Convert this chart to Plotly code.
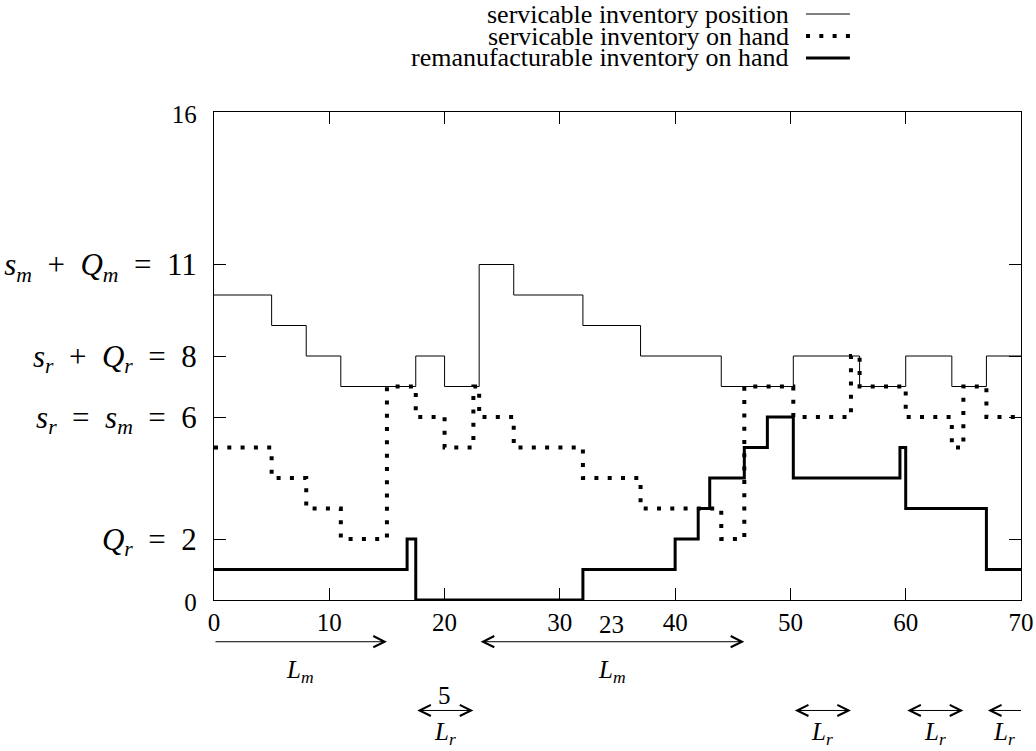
import plotly.graph_objects as go

# ---- data ----
pos_x = [0, 5, 8, 11, 17.5, 20, 23, 26, 32, 37, 44, 50.25, 56, 60, 64, 67, 70]
pos_y = [10, 9, 8, 7, 8, 7, 11, 10, 9, 8, 7, 8, 7, 8, 7, 8, 8]

hand_x = [0, 5, 8, 11, 15, 17.5, 20, 22.5, 23, 26, 32, 37, 44, 46, 50.25, 55.25, 56, 60, 64, 65, 67, 70]
hand_y = [5, 4, 3, 2, 7, 6, 5, 7, 6, 5, 4, 3, 2, 7, 6, 8, 7, 6, 5, 7, 6, 6]

rem_x = [0, 16.75, 17.5, 32, 40, 42, 43, 46, 48, 50.25, 59.5, 60, 67, 70]
rem_y = [1, 2, 0, 1, 2, 3, 4, 5, 6, 4, 5, 3, 1, 1]

x_ticks = [0, 10, 20, 30, 40, 50, 60, 70]
y_ticks = [0, 2, 6, 8, 11, 16]
SP = "\u2002"
y_ticktext = [
    "<span style='font-size:25px'>0</span>",
    f"<i>Q</i><sub><i>r</i></sub>{SP}={SP}2",
    f"<i>s</i><sub><i>r</i></sub>{SP}={SP}<i>s</i><sub><i>m</i></sub>{SP}={SP}6",
    f"<i>s</i><sub><i>r</i></sub>{SP}+{SP}<i>Q</i><sub><i>r</i></sub>{SP}={SP}8",
    f"<i>s</i><sub><i>m</i></sub>{SP}+{SP}<i>Q</i><sub><i>m</i></sub>{SP}={SP}11",
    "<span style='font-size:25px'>16</span>",
]

series_names = [
    "servicable inventory position",
    "servicable inventory on hand",
    "remanufacturable inventory on hand",
]

# lead-time arrows: (start, end, head at start, head at end, label x, value label)
Lm_arrows = [(0, 15, False, True, 7.5, None), (23, 46, True, True, 34.5, "23")]
Lr_arrows = [(17.5, 22.5, True, True, 20, "5"), (50.25, 55.25, True, True, 52.75, None),
             (60, 65, True, True, 62.5, None), (67, 70, True, False, 68.5, None)]

FONT = "Liberation Serif"
FS = 25

fig = go.Figure()
fig.add_trace(go.Scatter(x=pos_x, y=pos_y, mode="lines", line=dict(shape="hv", color="black", width=1),
                         name=series_names[0], cliponaxis=False, showlegend=False))
fig.add_trace(go.Scatter(x=hand_x, y=hand_y, mode="lines",
                         line=dict(shape="hv", color="black", width=4, dash="4px,9.3px"),
                         name=series_names[1], cliponaxis=False, showlegend=False))
fig.add_trace(go.Scatter(x=rem_x, y=rem_y, mode="lines", line=dict(shape="hv", color="black", width=3),
                         name=series_names[2], cliponaxis=False, showlegend=False))

ann = []
shapes = []


def arrow(x0, x1, y, start, end):
    side = []
    if end:
        side.append("end")
    if start:
        side.append("start")
    ann.append(dict(x=x1, y=y, ax=x0, ay=0, xref="x", yref="paper", axref="x", ayref="pixel",
                    text="", showarrow=True, arrowhead=5, startarrowhead=5,
                    arrowside="+".join(side), arrowsize=2.2, startarrowsize=2.2,
                    arrowwidth=1, arrowcolor="black", standoff=0, startstandoff=0))


ROW1 = -0.0855
ROW2 = -0.2264
tfont = dict(family=FONT, size=FS, color="black")
for x0, x1, s, e, lx, val in Lm_arrows:
    arrow(x0, x1, ROW1, s, e)
    ann.append(dict(x=lx, y=-0.1475, xref="x", yref="paper", yanchor="middle", xanchor="center",
                    showarrow=False, text="<i>L</i><sub><i>m</i></sub>", font=tfont))
    if val:
        ann.append(dict(x=lx, y=-0.0512, xref="x", yref="paper", yanchor="middle", xanchor="center",
                        showarrow=False, text=val, font=tfont))
for x0, x1, s, e, lx, val in Lr_arrows:
    arrow(x0, x1, ROW2, s, e)
    ann.append(dict(x=lx, y=-0.274, xref="x", yref="paper", yanchor="middle", xanchor="center",
                    showarrow=False, text="<i>L</i><sub><i>r</i></sub>", font=tfont))
    if val:
        ann.append(dict(x=lx, y=-0.196, xref="x", yref="paper", yanchor="middle", xanchor="center",
                        showarrow=False, text=val, font=tfont))

# custom legend (text on left, sample on right)
leg_rows = [1.2008, 1.1557, 1.1107]
leg_styles = [dict(width=1, dash="solid"), dict(width=4, dash="4px,9.3px"), dict(width=3, dash="solid")]
for name, yy, st in zip(series_names, leg_rows, leg_styles):
    ann.append(dict(x=0.715, y=yy, xref="paper", yref="paper", xanchor="right", yanchor="middle",
                    showarrow=False, text=name, font=dict(family=FONT, size=26, color="black")))
    shapes.append(dict(type="line", xref="paper", yref="paper", x0=0.7336, x1=0.788, y0=yy, y1=yy,
                       line=dict(color="black", width=st["width"], dash=st["dash"])))

fig.update_layout(
    width=1036, height=751,
    margin=dict(l=214, r=15, t=112, b=151, autoexpand=False),
    paper_bgcolor="white", plot_bgcolor="white",
    font=dict(family=FONT, size=FS, color="black"),
    annotations=ann, shapes=shapes,
    showlegend=False,
)
fig.update_xaxes(range=[0, 70], tickvals=x_ticks, ticktext=[str(v) for v in x_ticks],
                 tickfont=dict(family=FONT, size=25, color="black"), automargin=False,
                 showgrid=False, zeroline=False, showline=True, linecolor="black", linewidth=1,
                 mirror="ticks", ticks="inside", ticklen=12, tickcolor="black", tickwidth=1,
                 ticklabelstandoff=0)
fig.update_yaxes(range=[0, 16], tickvals=y_ticks, ticktext=y_ticktext,
                 tickfont=dict(family=FONT, size=31, color="black"), automargin=False,
                 showgrid=False, zeroline=False, showline=True, linecolor="black", linewidth=1,
                 mirror="ticks", ticks="inside", ticklen=12, tickcolor="black", tickwidth=1,
                 ticklabelstandoff=10)

fig.write_html("out.html")
